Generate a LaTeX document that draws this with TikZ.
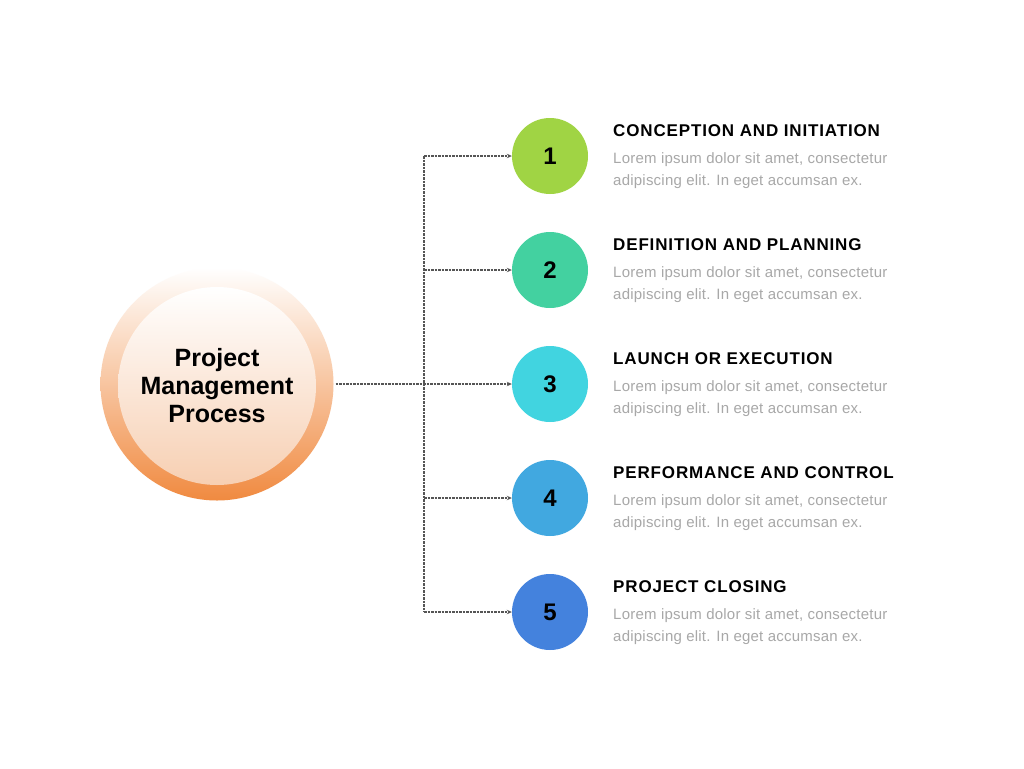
\documentclass[tikz,border=0pt]{standalone}
\usepackage{fontspec}
\setmainfont{Liberation Sans}
\usetikzlibrary{arrows.meta}
\definecolor{c1}{HTML}{A0D444}
\definecolor{c2}{HTML}{43D1A0}
\definecolor{c3}{HTML}{41D4E0}
\definecolor{c4}{HTML}{41A8E0}
\definecolor{c5}{HTML}{4482DD}
\definecolor{orA}{HTML}{F08A40}
\definecolor{orM}{HTML}{F8CCAC}
\definecolor{orI}{HTML}{F7CFB2}
\definecolor{orIM}{HTML}{FCEADD}
\definecolor{loremgray}{HTML}{A8A8A8}
\definecolor{dashgray}{HTML}{555555}
\tikzset{
  num/.style={circle, minimum size=76pt, inner sep=0pt, font=\bfseries\fontsize{24}{28}\selectfont},
  conn/.style={draw=dashgray, line width=1.1pt, dash pattern=on 2.5pt off 1pt},
  tip/.style={-{Stealth[length=5pt,width=4.5pt]}},
  ttl/.style={anchor=west, inner sep=0pt, font=\bfseries\fontsize{17}{20}\selectfont\addfontfeatures{LetterSpace=5}},
  lorem/.style={anchor=north west, inner sep=0pt, align=left, text=loremgray, font=\fontsize{15}{22}\selectfont\addfontfeatures{LetterSpace=1.5}}
}
\begin{document}
\begin{tikzpicture}[x=1pt,y=-1pt]
\useasboundingbox[fill=white] (0,0) rectangle (1024,768);
\node[circle, minimum size=233pt, inner sep=0pt, top color=white, middle color=orM, bottom color=orA] (main) at (217,384) {};
\node[circle, minimum size=198pt, inner sep=0pt, top color=white, middle color=orIM, bottom color=orI] (inner) at (217,386) {};
\node[align=center, font=\bfseries\fontsize{25}{28}\selectfont] (mtxt) at (217,386) {Project\\Management\\Process};
\node[num, fill=c1] (n1) at (550,156) {1};
\node[num, fill=c2] (n2) at (550,270) {2};
\node[num, fill=c3] (n3) at (550,384) {3};
\node[num, fill=c4] (n4) at (550,498) {4};
\node[num, fill=c5] (n5) at (550,612) {5};
\coordinate (tr) at (424,384);
\draw[conn] (tr |- n1) -- (tr |- n5);
\draw[conn, tip, shorten <=2pt] (main.east) -- (n3.west);
\foreach \i in {1,2,4,5} { \draw[conn, tip] (tr |- n\i) -- (n\i.west); }
\node[ttl] (t1) at (613,131) {CONCEPTION AND INITIATION};
\node[ttl] (t2) at (613,245) {DEFINITION AND PLANNING};
\node[ttl] (t3) at (613,359) {LAUNCH OR EXECUTION};
\node[ttl] (t4) at (613,473) {PERFORMANCE AND CONTROL};
\node[ttl] (t5) at (613,587) {PROJECT CLOSING};
\foreach \i/\y in {1/152,2/266,3/380,4/494,5/608} {
  \node[lorem] (l\i) at (613,\y) {Lorem ipsum dolor sit amet, consectetur\\adipiscing elit. In eget accumsan ex.};
}
\end{tikzpicture}
\end{document}
